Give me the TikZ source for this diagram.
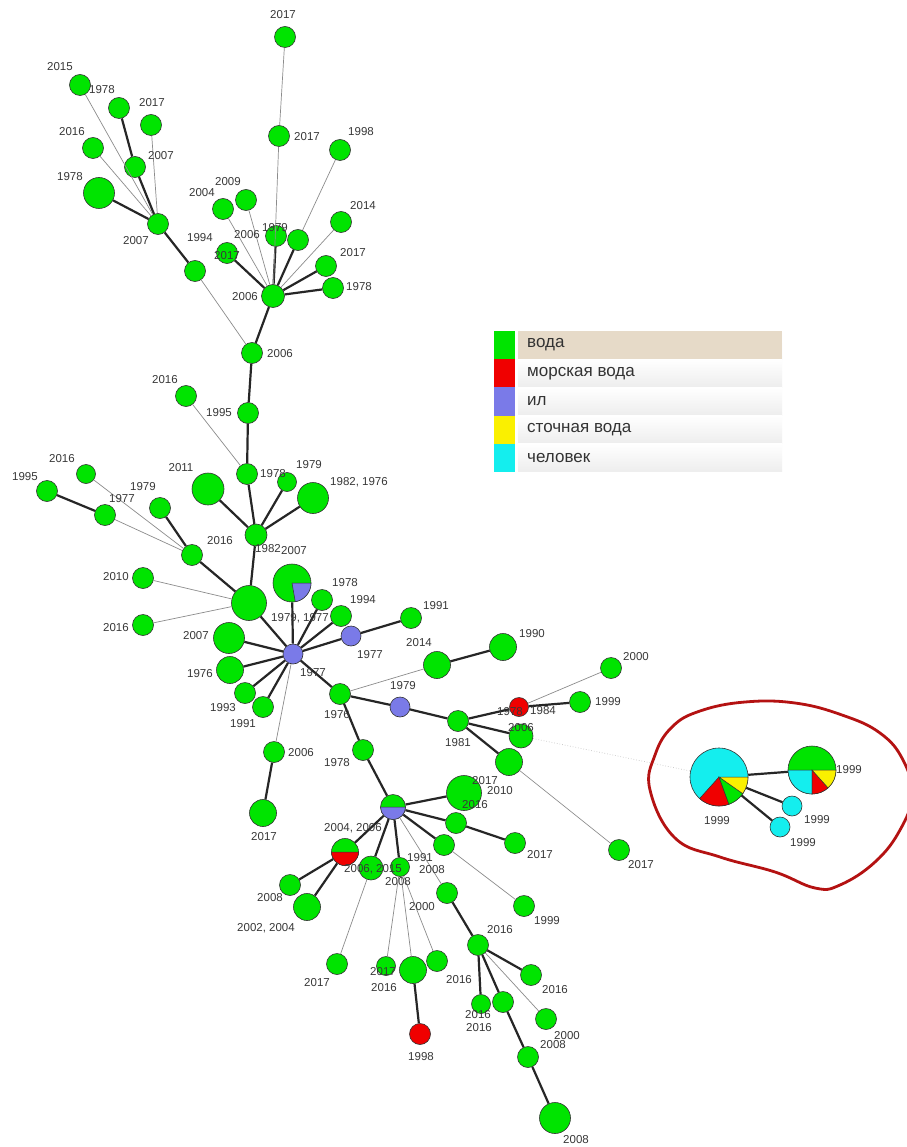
\documentclass[tikz,border=0pt]{standalone}
\usepackage{fontspec}
\setmainfont{Liberation Sans}
\usetikzlibrary{positioning}
\definecolor{wgreen}{RGB}{0,228,0}
\definecolor{wred}{RGB}{240,0,0}
\definecolor{wblue}{RGB}{122,122,232}
\definecolor{wyellow}{RGB}{250,240,0}
\definecolor{wcyan}{RGB}{20,238,238}
\definecolor{blobred}{RGB}{180,18,18}
\definecolor{legtan}{RGB}{230,218,200}
\newcommand{\yrfont}{\fontsize{11.5}{12}\selectfont}
\newcommand{\piepart}[5]{\filldraw[#2,draw=black!80,line width=0.5pt] (#1.center) -- ++(#3:#5) arc[start angle=#3,end angle=#4,radius=#5] -- cycle;}

\begin{document}
\begin{tikzpicture}[x=1pt,y=-1pt,
        samp/.style={circle,draw=black!80,line width=0.6pt,inner sep=0pt,minimum size=#1},
        samp/.default=21pt,
        wat/.style={samp=#1,fill=wgreen}, wat/.default=21pt,
        sea/.style={samp=#1,fill=wred}, sea/.default=19pt,
        silt/.style={samp=#1,fill=wblue}, silt/.default=20pt,
        hum/.style={samp=#1,fill=wcyan}, hum/.default=20pt,
        strong/.style={line width=2.2pt,black!85},
        weak/.style={line width=0.7pt,black!45},
        faint/.style={line width=0.7pt,black!22,dotted},
        yr/.style={font=\yrfont,text=black!78,inner sep=0pt},
        blob/.style={line width=2.8pt,blobred},
        swatch/.style={minimum width=21pt,minimum height=28.2pt,inner sep=0pt},
        legrow/.style={minimum width=264pt,minimum height=28.2pt,inner sep=0pt},
        legtxt/.style={font=\fontsize{17}{20}\selectfont,text=black!80,inner sep=0pt,anchor=west}
    ]
    \fill[white] (0,0) rectangle (906,1147);
    \useasboundingbox (0,0) rectangle (906,1147);

    % upper cluster round 2006
    \node[wat] (n1) at (285,37) {};
    \node[wat] (n2) at (279,136) {};
    \node[wat=23pt] (h6) at (273,296) {};
    \node[wat] (n3) at (340,150) {};
    \node[wat] (n4) at (341,222) {};
    \node[wat] (n5) at (326,266) {};
    \node[wat] (n6) at (333,288) {};
    \node[wat] (n7) at (276,236) {};
    \node[wat] (n8) at (298,240) {};
    \node[wat] (n9) at (223,209) {};
    \node[wat] (n10) at (246,200) {};
    \node[wat] (n11) at (227,253) {};
    \node[wat] (n12) at (195,271) {};
    \node[wat] (c7) at (158,224) {};
    \node[wat] (n13) at (80,85) {};
    \node[wat] (n14) at (119,108) {};
    \node[wat] (n15) at (151,125) {};
    \node[wat] (n16) at (93,148) {};
    \node[wat] (n17) at (135,167) {};
    \node[wat=31pt] (n18) at (99,193) {};

    % trunk
    \node[wat] (n19) at (252,353) {};
    \node[wat] (n20) at (248,413) {};
    \node[wat] (n21) at (186,396) {};
    \node[wat] (n22) at (247,474) {};
    \node[wat=19pt] (n23) at (287,482) {};
    \node[wat=31pt] (n24) at (313,498) {};
    \node[wat=32pt] (n25) at (208,489) {};
    \node[wat=22pt] (b1) at (256,535) {};
    \node[wat=35pt] (d1) at (249,603) {};
    \node[wat] (f1) at (192,555) {};
    \node[wat] (n26) at (47,491) {};
    \node[wat] (n27) at (105,515) {};
    \node[wat=19pt] (n28) at (86,474) {};
    \node[wat] (n29) at (160,508) {};
    \node[wat] (n30) at (143,578) {};
    \node[wat] (n31) at (143,625) {};

    % centre 1977
    \node[silt] (g1) at (293,654) {};
    \node[wat=38pt] (e1) at (292,583) {};
    \piepart{e1}{wblue}{-80}{0}{19pt}
    \node[wat] (n32) at (322,600) {};
    \node[wat] (n33) at (341,616) {};
    \node[silt] (s1) at (351,636) {};
    \node[wat] (n34) at (411,618) {};
    \node[wat=31pt] (n35) at (229,638) {};
    \node[wat=27pt] (n36) at (230,670) {};
    \node[wat] (n37) at (245,693) {};
    \node[wat] (n38) at (263,707) {};
    \node[wat] (n39) at (274,752) {};
    \node[wat=27pt] (n40) at (263,813) {};
    \node[wat] (h1) at (340,694) {};
    \node[wat=27pt] (n41) at (437,665) {};
    \node[wat=27pt] (n42) at (503,647) {};
    \node[silt] (s2) at (400,707) {};
    \node[wat] (n43) at (458,721) {};
    \node[sea] (r1) at (519,707) {};
    \node[wat] (n44) at (611,668) {};
    \node[wat] (n45) at (580,702) {};
    \node[wat=24pt] (n46) at (521,736) {};
    \node[wat=27pt] (n47) at (509,762) {};
    \node[wat] (n48) at (619,850) {};

    % lower cluster
    \node[wat] (n49) at (363,750) {};
    \node[wat=25pt] (i1) at (393,807) {};
    \piepart{i1}{wblue}{0}{-180}{12.5pt}
    \node[wat=35pt] (n50) at (464,793) {};
    \node[wat] (n51) at (456,823) {};
    \node[wat] (n52) at (515,843) {};
    \node[wat] (n53) at (444,845) {};
    \node[wat] (n54) at (524,906) {};
    \node[wat] (n55) at (447,893) {};
    \node[wat] (j1) at (478,945) {};
    \node[wat] (n56) at (531,975) {};
    \node[wat=19pt] (n57) at (481,1004) {};
    \node[wat] (n58) at (503,1002) {};
    \node[wat] (n59) at (528,1057) {};
    \node[wat=31pt] (n60) at (555,1118) {};
    \node[wat] (n61) at (546,1019) {};
    \node[wat=27pt] (r2) at (345,852) {};
    \piepart{r2}{wred}{0}{-180}{13.5pt}
    \node[wat] (n62) at (290,885) {};
    \node[wat=27pt] (n63) at (307,907) {};
    \node[wat=24pt] (n64) at (371,868) {};
    \node[wat] (n65) at (337,964) {};
    \node[wat=19pt] (n66) at (400,867) {};
    \node[wat=19pt] (n67) at (386,966) {};
    \node[wat=27pt] (n68) at (413,970) {};
    \node[wat] (n69) at (437,961) {};
    \node[sea=21pt] (r3) at (420,1034) {};

    % human cluster
    \node[hum=58pt] (k1) at (719,777) {};
    \piepart{k1}{wred}{-132}{-70}{29pt}
    \piepart{k1}{wgreen}{-70}{-35}{29pt}
    \piepart{k1}{wyellow}{-35}{0}{29pt}
    \node[wat=48pt] (l1) at (812,770) {};
    \piepart{l1}{wcyan}{180}{270}{24pt}
    \piepart{l1}{wred}{270}{312}{24pt}
    \piepart{l1}{wyellow}{312}{360}{24pt}
    \node[hum] (c1) at (792,806) {};
    \node[hum] (c2) at (780,827) {};

    % links
    \draw[strong] (n5) -- (h6) (n6) -- (h6) (n7) -- (h6) (n8) -- (h6) (n11) -- (h6)
        (h6) -- (n19) (n12) -- (c7) (c7) -- (n17) (c7) -- (n18) (n14) -- (n17)
        (n19) -- (n20) (n20) -- (n22) (n22) -- (b1) (n23) -- (b1) (n24) -- (b1) (n25) -- (b1)
        (b1) -- (d1) (f1) -- (d1) (n26) -- (n27) (n29) -- (f1) (d1) -- (g1) (e1) -- (g1)
        (n32) -- (g1) (n33) -- (g1) (s1) -- (g1) (n34) -- (s1) (n35) -- (g1) (n36) -- (g1)
        (n37) -- (g1) (n38) -- (g1) (n39) -- (n40) (g1) -- (h1) (n41) -- (n42) (h1) -- (s2)
        (s2) -- (n43) (n43) -- (r1) (r1) -- (n45) (n43) -- (n46) (n43) -- (n47) (h1) -- (n49)
        (n49) -- (i1) (i1) -- (n50) (i1) -- (n51) (n51) -- (n52) (i1) -- (n53) (n55) -- (j1)
        (j1) -- (n56) (j1) -- (n57) (j1) -- (n58) (n58) -- (n59) (n59) -- (n60) (i1) -- (r2)
        (r2) -- (n62) (r2) -- (n63) (i1) -- (n64) (i1) -- (n66) (n68) -- (r3)
        (k1) -- (l1) (k1) -- (c1) (k1) -- (c2);
    \draw[weak] (n1) -- (n2) (n2) -- (h6) (n3) -- (n8) (n4) -- (h6) (n9) -- (h6) (n10) -- (h6)
        (n12) -- (n19) (c7) -- (n13) (c7) -- (n15) (c7) -- (n16) (n21) -- (n22) (n27) -- (f1)
        (n28) -- (f1) (n30) -- (d1) (n31) -- (d1) (g1) -- (n39) (h1) -- (n41) (r1) -- (n44)
        (n47) -- (n48) (n53) -- (n54) (i1) -- (n55) (j1) -- (n61) (n64) -- (n65) (n66) -- (n67)
        (n66) -- (n68) (n66) -- (n69);
    \draw[faint] (n46) -- (k1);

    % years
    \node[yr] (y1) at (283,15) {2017};
    \node[yr] (y2) at (307,137) {2017};
    \node[yr] (y3) at (361,132) {1998};
    \node[yr] (y4) at (363,206) {2014};
    \node[yr] (y5) at (353,253) {2017};
    \node[yr] (y6) at (359,287) {1978};
    \node[yr] (y7) at (275,228) {1979};
    \node[yr] (y8) at (247,235) {2006};
    \node[yr] (y9) at (202,193) {2004};
    \node[yr] (y10) at (228,182) {2009};
    \node[yr] (y11) at (200,238) {1994};
    \node[yr] (y12) at (227,256) {2017};
    \node[yr] (y13) at (245,297) {2006};
    \node[yr] (y14) at (60,67) {2015};
    \node[yr] (y15) at (102,90) {1978};
    \node[yr] (y16) at (152,103) {2017};
    \node[yr] (y17) at (72,132) {2016};
    \node[yr] (y18) at (161,156) {2007};
    \node[yr] (y19) at (70,177) {1978};
    \node[yr] (y20) at (136,241) {2007};
    \node[yr] (y21) at (280,354) {2006};
    \node[yr] (y22) at (219,413) {1995};
    \node[yr] (y23) at (165,380) {2016};
    \node[yr] (y24) at (273,474) {1978};
    \node[yr] (y25) at (309,465) {1979};
    \node[yr] (y26) at (359,482) {1982, 1976};
    \node[yr] (y27) at (181,468) {2011};
    \node[yr] (y28) at (268,549) {1982};
    \node[yr] (y29) at (294,551) {2007};
    \node[yr] (y30) at (220,541) {2016};
    \node[yr] (y31) at (25,477) {1995};
    \node[yr] (y32) at (62,459) {2016};
    \node[yr] (y33) at (143,487) {1979};
    \node[yr] (y34) at (122,499) {1977};
    \node[yr] (y35) at (116,577) {2010};
    \node[yr] (y36) at (116,628) {2016};
    \node[yr] (y37) at (300,618) {1979, 1977};
    \node[yr] (y38) at (345,583) {1978};
    \node[yr] (y39) at (363,600) {1994};
    \node[yr] (y40) at (370,655) {1977};
    \node[yr] (y41) at (436,606) {1991};
    \node[yr] (y42) at (196,636) {2007};
    \node[yr] (y43) at (200,674) {1976};
    \node[yr] (y44) at (223,708) {1993};
    \node[yr] (y45) at (243,724) {1991};
    \node[yr] (y46) at (313,673) {1977};
    \node[yr] (y47) at (301,753) {2006};
    \node[yr] (y48) at (264,837) {2017};
    \node[yr] (y49) at (337,715) {1976};
    \node[yr] (y50) at (419,643) {2014};
    \node[yr] (y51) at (532,634) {1990};
    \node[yr] (y52) at (403,686) {1979};
    \node[yr] (y53) at (458,743) {1981};
    \node[yr] (y54) at (510,712) {1978};
    \node[yr] (y55) at (543,711) {1984};
    \node[yr] (y56) at (636,657) {2000};
    \node[yr] (y57) at (608,702) {1999};
    \node[yr] (y58) at (521,728) {2006};
    \node[yr] (y59) at (641,865) {2017};
    \node[yr] (y60) at (337,763) {1978};
    \node[yr] (y61) at (485,781) {2017};
    \node[yr] (y62) at (500,791) {2010};
    \node[yr] (y63) at (475,805) {2016};
    \node[yr] (y64) at (540,855) {2017};
    \node[yr] (y65) at (547,921) {1999};
    \node[yr] (y66) at (500,930) {2016};
    \node[yr] (y67) at (555,990) {2016};
    \node[yr] (y68) at (478,1015) {2016};
    \node[yr] (y69) at (479,1028) {2016};
    \node[yr] (y70) at (553,1045) {2008};
    \node[yr] (y71) at (576,1140) {2008};
    \node[yr] (y72) at (567,1036) {2000};
    \node[yr] (y73) at (353,828) {2004, 2006};
    \node[yr] (y74) at (270,898) {2008};
    \node[yr] (y75) at (266,928) {2002, 2004};
    \node[yr] (y76) at (373,869) {2006, 2015};
    \node[yr] (y77) at (420,858) {1991};
    \node[yr] (y78) at (432,870) {2008};
    \node[yr] (y79) at (398,882) {2008};
    \node[yr] (y80) at (422,907) {2000};
    \node[yr] (y81) at (317,983) {2017};
    \node[yr] (y82) at (383,972) {2017};
    \node[yr] (y83) at (384,988) {2016};
    \node[yr] (y84) at (459,980) {2016};
    \node[yr] (y85) at (421,1057) {1998};
    \node[yr] (y86) at (717,821) {1999};
    \node[yr] (y87) at (849,770) {1999};
    \node[yr] (y88) at (817,820) {1999};
    \node[yr] (y89) at (803,843) {1999};

    % ring round the human samples
    \draw[blob] plot[smooth cycle,tension=0.7] coordinates {(650,790) (655,755) (672,727) (700,711)
        (745,702) (795,703) (842,715) (880,733) (903,760) (912,795) (900,830) (875,862)
        (840,885) (815,888) (775,872) (720,857) (675,838)};

    % legend
    \foreach \i in {0,...,4}
        \node[legrow,top color=white,bottom color=black!7] (lr\i) at (650,{345+28.2*\i}) {};
    \node[legrow,fill=legtan] (lr0) at (650,345) {};
    \foreach \i/\c/\t in {0/wgreen/вода,1/wred/морская вода,2/wblue/ил,3/wyellow/сточная вода,4/wcyan/человек} {
        \node[swatch,fill=\c] (sw\i) at (504,{345+28.2*\i}) {};
        \node[legtxt] (lt\i) at (527,{345+28.2*\i}) {\t};
    }
\end{tikzpicture}
\end{document}
